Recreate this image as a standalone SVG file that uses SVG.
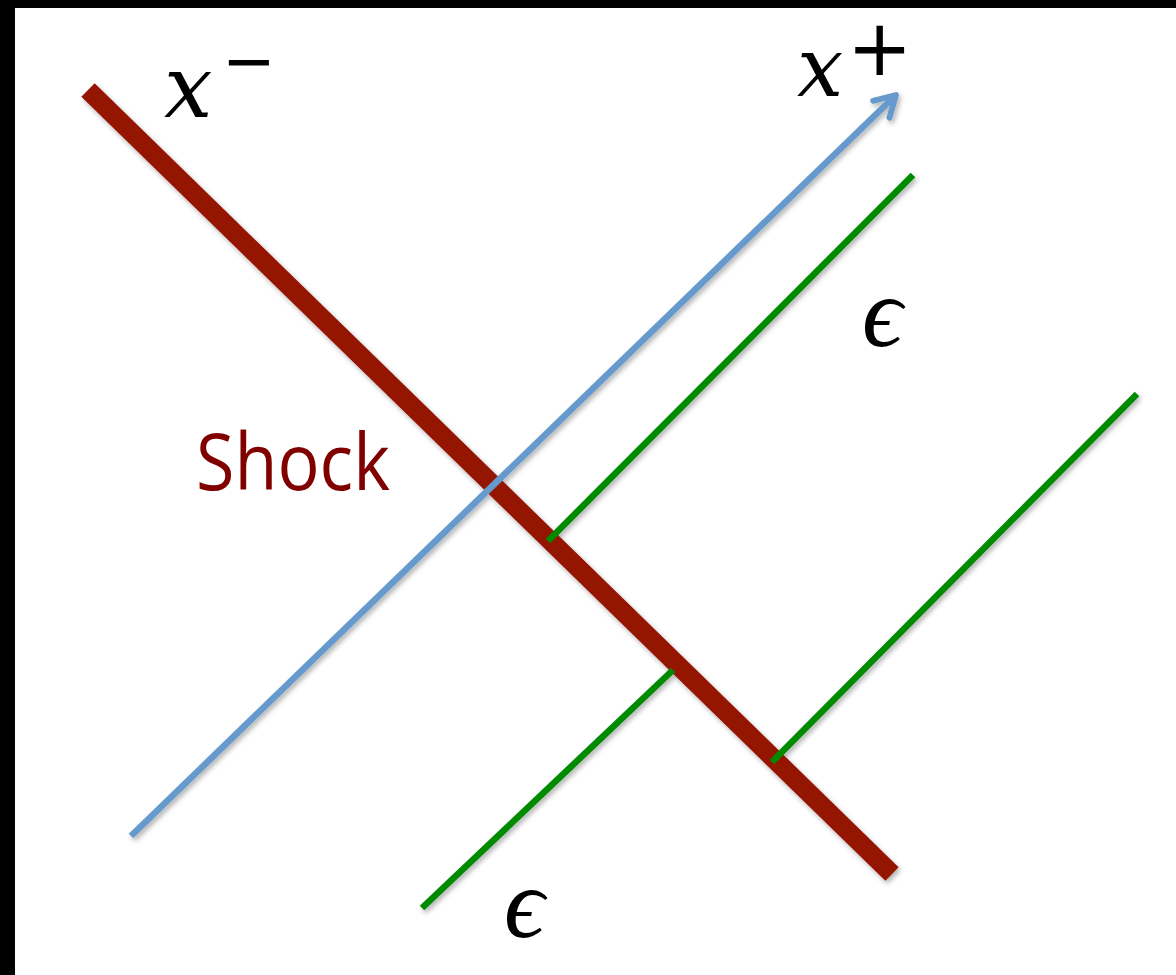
<svg xmlns="http://www.w3.org/2000/svg" width="1176" height="975" viewBox="0 0 1176 975">
<style>
.math{font-family:"DejaVu Serif","Liberation Serif",serif;font-style:italic;fill:#000}
.eps{font-family:"Liberation Serif","DejaVu Serif",serif;font-style:italic;fill:#000}
.sup{font-family:"DejaVu Sans","Liberation Sans",sans-serif;fill:#000}
.lbl{font-family:"Open Sans","Liberation Sans",sans-serif;fill:#800000}
</style>
<defs>
<filter id="sh" x="-10%" y="-10%" width="120%" height="120%">
<feDropShadow dx="2" dy="3" stdDeviation="2.5" flood-color="#000" flood-opacity="0.3"/>
</filter>
<marker id="arr" viewBox="0 0 10 10" refX="8" refY="5" markerWidth="4.5" markerHeight="4.5" orient="auto" markerUnits="strokeWidth">
<path d="M1,1 L8,5 L1,9" fill="none" stroke="#6699cc" stroke-width="2" stroke-linecap="round" stroke-linejoin="round"/>
</marker>
</defs>
<rect x="0" y="0" width="1176" height="975" fill="#fff"/>
<rect x="0" y="0" width="1176" height="8" fill="#000"/>
<rect x="0" y="0" width="15" height="975" fill="#000"/>
<g id="connectors" filter="url(#sh)">
<line id="shock" x1="88" y1="90" x2="892" y2="874" stroke="#941200" stroke-width="19"/>
<line id="xplus-axis" x1="131" y1="836" x2="896" y2="95" stroke="#6699cc" stroke-width="6.5" marker-end="url(#arr)"/>
<line id="g1" x1="548" y1="541" x2="913" y2="175" stroke="#008a00" stroke-width="6.5"/>
<line id="g2" x1="422" y1="908" x2="673" y2="670" stroke="#008a00" stroke-width="6.5"/>
<line id="g3" x1="772" y1="762" x2="1137" y2="394" stroke="#008a00" stroke-width="6.5"/>
</g>
<g id="label-xminus">
<text class="math" x="164" y="117" font-size="86">x</text>
<text class="sup" x="222" y="83" font-size="64">−</text>
</g>
<g id="label-xplus">
<text class="math" x="797" y="96" font-size="82">x</text>
<text class="sup" x="847" y="75" font-size="78">+</text>
</g>
<g id="label-shock">
<text class="lbl" x="196" y="490" font-size="78" textLength="194" lengthAdjust="spacingAndGlyphs">Shock</text>
</g>
<g id="label-eps1">
<text class="eps" x="862" y="346" font-size="100">ϵ</text>
</g>
<g id="label-eps2">
<text class="eps" x="504" y="937" font-size="100">ϵ</text>
</g>
</svg>
